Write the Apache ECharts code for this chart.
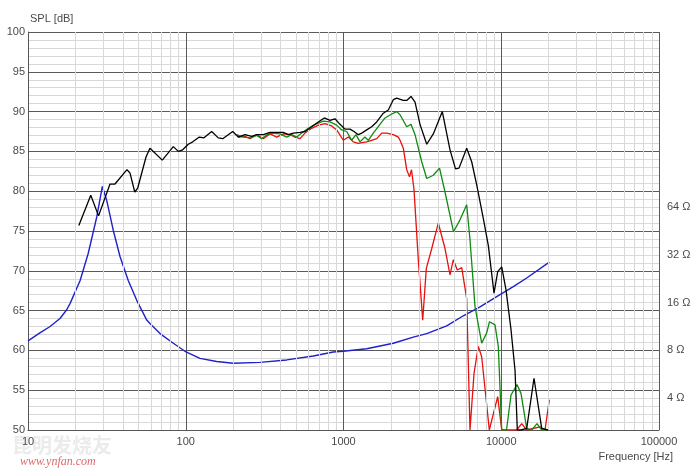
<!DOCTYPE html>
<html><head><meta charset="utf-8">
<script src="https://cdn.jsdelivr.net/npm/echarts@6/dist/echarts.min.js"></script>
<style>html,body{margin:0;padding:0;background:#fff}#c{width:695px;height:473px}</style>
</head><body><div id="c"></div>
<script>
// ---- data ----
const blackFreq = [21,25,28,33.1,35.6,42.4,44.3,47.5,49.6,56,59.3,71,83.4,89.7,95.6,103.8,110.7,121.9,130.5,146,160.8,171.5,198.5,215.3,237.5,261.8,281.7,310,342,415.5,446.8,480.8,530,570,628.6,692.2,755.4,821,883.4,950.2,1022,1100,1166,1241,1305,1403,1509,1624,1788,1923,2069,2174,2394,2516,2679,2841,3055,3370,3710,4230,4733,5129,5397,6039,6496,6989,7695,8278,8997,9496,10069,10720,11533,12225,12643,13343,14500,16130,18050,19790];
const blackSpl = [75.7,79.5,76.9,80.9,80.9,82.7,82.3,79.9,80.4,84.3,85.4,83.9,85.6,85.0,85.2,85.9,86.2,86.8,86.7,87.5,86.7,86.6,87.5,86.8,87.1,86.9,87.1,87.1,87.4,87.4,87.1,87.3,87.4,87.5,88.1,88.7,89.2,88.9,89.1,88.4,87.8,87.8,87.5,87.1,87.3,87.7,88.1,88.7,89.8,90.2,91.5,91.7,91.4,91.4,91.9,91.2,88.4,85.9,87.2,90.0,85.2,82.8,82.9,85.4,83.7,80.8,76.6,73.2,67.2,69.9,70.5,67.6,62.6,57.5,50,50,50.2,56.5,50.2,50];

const greenFreq = [210,231.7,255.5,281.7,303,326.1,350.6,395.8,436.5,469.6,505.2,543.4,598.4,659.8,744.5,821,905.5,974,1048,1127,1200,1272,1368,1436,1545,1703,1833,2021,2174,2282,2516,2679,2841,3132,3370,3710,4062,4400,4983,5477,6039,6337,6817,7517,8085,8424,9130,9580,10066,10800,11530,12590,13340,14500,15600,16850,18050,19790];
const greenSpl = [87.1,86.8,86.7,87.0,86.6,87.1,87.3,87.2,86.8,87.1,86.8,87.3,87.9,88.4,88.8,88.7,88.3,87.7,87.5,86.4,87.1,86.2,86.8,86.4,87.3,88.4,89.2,89.7,90.0,89.6,88.1,88.4,87.1,83.7,81.6,82.0,82.9,79.9,74.9,76.4,78.3,73.9,65.5,60.9,62.2,63.6,63.2,60.5,50,50,54.4,55.7,54.6,50.2,50,50.8,50,50];

const redFreq = [215.3,237.5,255.5,281.7,310,342,377.3,415.5,458.1,492.7,530,570,628.6,692.2,763.2,841.9,905.5,997,1073,1154,1241,1310,1403,1509,1624,1747,1879,2069,2226,2282,2394,2516,2620,2698,2799,2980,3178,3350,3625,3990,4400,4733,4968,5264,5616,6039,6337,6719,7153,7517,8400,9496,10070,11370,12530,13480,14500,17610,18940,20170];
const redSpl = [86.8,86.9,86.6,87.1,86.6,87.2,86.8,87.2,87.1,86.8,86.6,87.3,87.9,88.3,88.5,88.2,87.7,86.4,86.8,86.2,86.0,86.1,86.2,86.4,86.6,87.3,87.3,87.1,86.8,86.4,85.4,82.7,81.8,82.7,80.2,71.4,63.8,70.3,72.8,76.0,72.8,69.5,71.4,70.1,70.4,66.5,50,57.1,60.5,59.2,50,54.2,50,50,50,50.8,50,50.4,50,53.8];

const impFreq = [10,11.9,13.8,15.95,17.6,18.5,21.4,24.1,27.3,29.6,31.5,34.7,38.3,43.2,48.9,56.6,59.3,68.7,83.4,98.9,123.1,157.1,200.2,295.6,436.4,643.8,861.8,997,1403,2069,2770,3370,4511,5746,7335,9820,11925,14500,20170];
const impOhm = [9.18,10.3,11.3,12.7,14.4,15.8,22.0,32.6,55.3,85.7,70.5,45.5,31.1,22.0,16.5,12.4,11.8,10.2,8.87,7.9,7.13,6.81,6.65,6.73,6.97,7.38,7.82,7.9,8.19,8.87,9.7,10.2,11.4,13.2,15.0,17.9,20.1,22.8,28.7];

const freqTicks = [10,100,1000,10000,100000];
const minorFreqLines = [20,30,40,50,60,70,80,90,200,300,400,500,600,700,800,900,2000,3000,4000,5000,6000,7000,8000,9000,20000,30000,40000,50000,60000,70000,80000,90000];
const ohmTicks = [4,8,16,32,64];

// ---- chart ----
const pairs = (xs, ys) => xs.map((x, i) => [x, ys[i]]);
const chart = echarts.init(document.getElementById('c'), null, {renderer: 'canvas'});
const FONT = 'Liberation Sans, Arial, sans-serif';
const lblColor = '#4a4a4a';
// impedance axis: 8 ohm at 60 dB, 6 dB per octave
const ohmMin = 8 * Math.pow(10, (50 - 60) / 20);
const ohmMax = 8 * Math.pow(10, (100 - 60) / 20);

chart.setOption({
  animation: false,
  backgroundColor: '#fff',
  grid: {left: 28, right: 36, top: 32, bottom: 43, containLabel: false},
  xAxis: {
    type: 'log', logBase: 10, min: 10, max: 100000,
    axisLine: {show: true, lineStyle: {color: '#555', width: 1}},
    axisTick: {show: false},
    axisLabel: {color: lblColor, fontFamily: FONT, fontSize: 11, margin: 6,
      formatter: v => freqTicks.includes(Math.round(v)) ? String(Math.round(v)) : ''},
    splitLine: {show: true, lineStyle: {color: '#5a5a5a', width: 1}}
  },
  yAxis: [{
    type: 'value', min: 50, max: 100, interval: 5,
    name: 'SPL [dB]', nameLocation: 'end', nameGap: 8,
    nameTextStyle: {color: lblColor, fontFamily: FONT, fontSize: 11, align: 'left', padding: [0, 0, 0, 2]},
    axisLine: {show: true, lineStyle: {color: '#555'}},
    axisTick: {show: false},
    axisLabel: {color: lblColor, fontFamily: FONT, fontSize: 11, margin: 3},
    splitLine: {show: true, lineStyle: {color: '#5a5a5a', width: 1}},
    minorTick: {show: false, splitNumber: 5},
    minorSplitLine: {show: true, lineStyle: {color: '#d8d8d8', width: 1}}
  }, {
    type: 'log', logBase: 2, min: ohmMin, max: ohmMax, splitNumber: 8,
    position: 'right',
    axisLine: {show: false},
    axisTick: {show: false},
    splitLine: {show: false},
    axisLabel: {color: lblColor, fontFamily: FONT, fontSize: 11, margin: 8,
      formatter: v => { const r = Math.round(v); return (ohmTicks.includes(r) && Math.abs(v - r) < 0.01) ? r + ' Ω' : ''; }}
  }],
  graphic: [
    {type: 'text', right: 22, top: 451, style: {text: 'Frequency [Hz]', fill: lblColor, font: '11px ' + FONT}},
    {type: 'text', left: 12, top: 435, silent: true, z: -1, style: {text: '昆明发烧友', fill: 'rgba(215,215,215,0.5)', font: 'bold 20px "Noto Sans CJK SC"'}},
    {type: 'text', left: 20, top: 456, silent: true, style: {text: 'www.ynfan.com', fill: 'rgba(210,80,80,0.85)', font: 'italic 12px "Liberation Serif", serif'}}
  ],
  series: [
    {
      name: 'minorGrid', type: 'line', data: [], z: 1, silent: true,
      markLine: {silent: true, symbol: ['none', 'none'], label: {show: false}, animation: false,
        lineStyle: {color: '#d8d8d8', width: 1, type: 'solid'},
        emphasis: {disabled: true},
        data: minorFreqLines.map(f => ({xAxis: f}))}
    },
    {name: 'Impedance', type: 'line', yAxisIndex: 1, data: pairs(impFreq, impOhm), showSymbol: false, z: 3,
      lineStyle: {color: '#2020cc', width: 1.4}},
    {name: 'Red', type: 'line', data: pairs(redFreq, redSpl), showSymbol: false, z: 4,
      lineStyle: {color: '#e81010', width: 1.3}},
    {name: 'Green', type: 'line', data: pairs(greenFreq, greenSpl), showSymbol: false, z: 5,
      lineStyle: {color: '#108a10', width: 1.3}},
    {name: 'Black', type: 'line', data: pairs(blackFreq, blackSpl), showSymbol: false, z: 6,
      lineStyle: {color: '#000', width: 1.3}}
  ]
});
</script></body></html>
